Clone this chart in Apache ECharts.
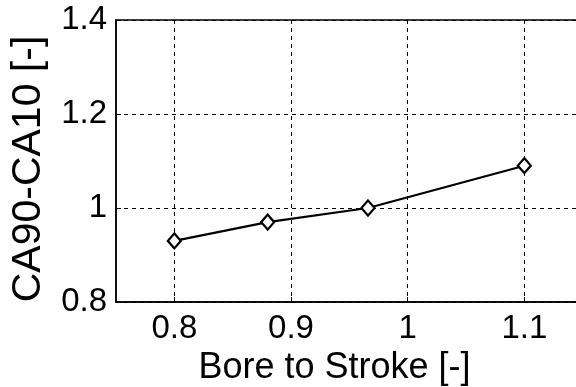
<!DOCTYPE html>
<html>
<head>
<meta charset="utf-8">
<script src="https://cdn.jsdelivr.net/npm/echarts@6/dist/echarts.min.js"></script>
<style>
  html, body { margin: 0; padding: 0; background: #fff; }
  #chart { width: 576px; height: 387px; }
</style>
</head>
<body>
<div id="chart"></div>
<script>
// Bore-to-stroke ratio vs. combustion duration (CA90-CA10)
const boreToStroke = [0.8, 0.88, 0.966, 1.1];
const combustionDuration = [0.93, 0.97, 1.0, 1.09];
const xTicks = [0.8, 0.9, 1.0, 1.1];
const yTicks = [0.8, 1.0, 1.2, 1.4];

const font = '"Liberation Sans", Arial, sans-serif';
const points = boreToStroke.map((x, i) => [x, combustionDuration[i]]);
const dash = { type: [4, 4], color: '#000', width: 1 };

const chart = echarts.init(document.getElementById('chart'), null, { renderer: 'canvas' });
chart.setOption({
  animation: false,
  backgroundColor: '#fff',
  grid: {
    left: 116, top: 20, width: 525, height: 282,
    outerBoundsMode: 'none',
    containLabel: false,
    show: true, borderColor: '#000', borderWidth: 1.5, backgroundColor: 'transparent'
  },
  // vertical axis title, placed beside the tick labels
  graphic: [{
    type: 'text',
    x: 29, y: 169,
    rotation: Math.PI / 2,
    style: {
      text: 'CA90-CA10 [-]',
      font: '41px ' + font,
      fill: '#000',
      align: 'center',
      verticalAlign: 'middle'
    }
  }],
  xAxis: {
    type: 'value',
    min: 0.75, max: 1.2,
    name: 'Bore to Stroke [-]',
    nameLocation: 'middle',
    nameGap: 44,
    nameTextStyle: { fontFamily: font, fontSize: 36, color: '#000', padding: [0, 88, 0, 0] },
    axisLine: { show: true, onZero: false, lineStyle: { color: '#000', width: 1.5 } },
    axisTick: { show: true, inside: true, length: 5, customValues: xTicks, lineStyle: { color: '#000' } },
    axisLabel: {
      customValues: xTicks,
      fontFamily: font, fontSize: 33, color: '#000', margin: 10,
      formatter: v => String(+v.toFixed(2))
    },
    splitLine: { show: true, lineStyle: dash }
  },
  yAxis: {
    type: 'value',
    min: 0.8, max: 1.4, interval: 0.2,
    axisLine: { show: true, onZero: false, lineStyle: { color: '#000', width: 1.5 } },
    axisTick: { show: true, inside: true, length: 5, lineStyle: { color: '#000' } },
    axisLabel: {
      fontFamily: font, fontSize: 33, color: '#000', margin: 9,
      formatter: v => String(+v.toFixed(2))
    },
    splitLine: { show: true, lineStyle: dash }
  },
  series: [{
    type: 'line',
    data: points,
    symbol: 'diamond',
    symbolSize: [13, 15],
    lineStyle: { color: '#000', width: 2.2 },
    itemStyle: { color: '#fff', borderColor: '#000', borderWidth: 2.2 }
  }]
});
</script>
</body>
</html>
